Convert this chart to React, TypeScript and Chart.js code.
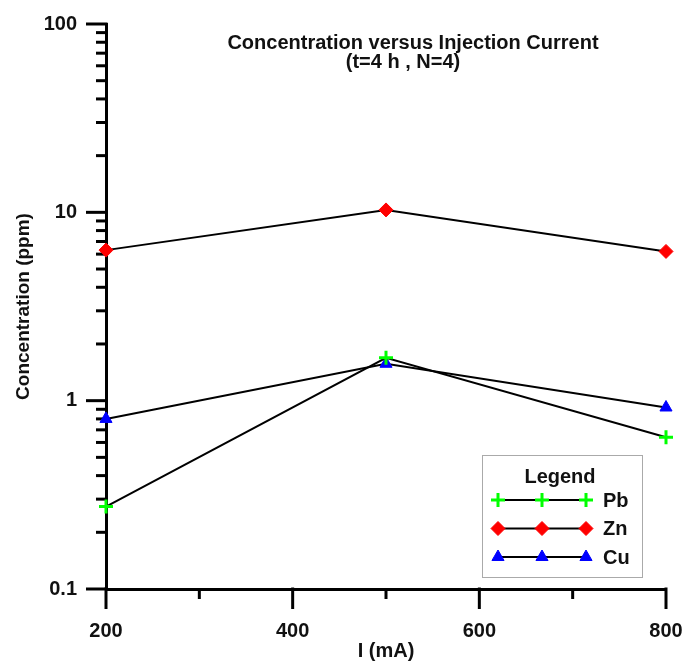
import React, { useEffect, useRef } from "react";
import { Chart, registerables } from "chart.js";
import { drawPoint } from "chart.js/helpers";

Chart.register(...registerables);

const currents = [200, 500, 800];
const pbValues = [0.274, 1.69, 0.64];
const znValues = [6.3, 10.3, 6.2];
const cuValues = [0.8, 1.57, 0.92];

const xMajorTicks = [200, 400, 600, 800];
const xMinorTicks = [300, 500, 700];
const yDecadeTicks = [0.1, 1, 10, 100];
const yMinorTicks = [0.1, 1, 10].flatMap((d) => [2, 3, 4, 5, 6, 7, 8, 9].map((m) => +(m * d).toPrecision(3)));

const titleLines = ["Concentration versus Injection Current", "(t=4 h , N=4)"];
const FONT = "'Liberation Sans', Arial, sans-serif";

const decor = {
  id: "decor",
  beforeDatasetsDraw(chart: any) {
    const ctx = chart.ctx;
    const xs = chart.scales.x;
    const ys = chart.scales.y;
    const { left, bottom } = chart.chartArea;
    ctx.save();
    ctx.strokeStyle = "#000";
    ctx.lineWidth = 3;
    ctx.lineCap = "butt";
    const seg = (x1: number, y1: number, x2: number, y2: number) => {
      ctx.beginPath();
      ctx.moveTo(x1, y1);
      ctx.lineTo(x2, y2);
      ctx.stroke();
    };
    xMajorTicks.forEach((v) => {
      const p = xs.getPixelForValue(v);
      seg(p, bottom - 1.5, p, bottom + 20);
    });
    xMinorTicks.forEach((v) => {
      const p = xs.getPixelForValue(v);
      seg(p, bottom, p, bottom + 10);
    });
    yDecadeTicks.forEach((v) => {
      const p = ys.getPixelForValue(v);
      seg(left + 1.5, p, left - 20, p);
    });
    yMinorTicks.forEach((v) => {
      const p = ys.getPixelForValue(v);
      seg(left, p, left - 10, p);
    });
    ctx.restore();
  },
  afterDraw(chart: any) {
    const ctx = chart.ctx;
    const { right, top } = chart.chartArea;
    ctx.save();
    // Title inside plot area
    ctx.fillStyle = "#111";
    ctx.font = `bold 20px ${FONT}`;
    ctx.textAlign = "center";
    ctx.textBaseline = "middle";
    ctx.fillText(titleLines[0], 413, top + 19);
    ctx.fillText(titleLines[1], 403, top + 38);

    // Legend box
    const bx = right - 184;
    const by = top + 431;
    const bw = 160;
    const bh = 122;
    ctx.fillStyle = "#fff";
    ctx.fillRect(bx, by, bw, bh);
    ctx.strokeStyle = "#aaa";
    ctx.lineWidth = 1;
    ctx.strokeRect(bx + 0.5, by + 0.5, bw, bh);
    ctx.fillStyle = "#111";
    ctx.font = `bold 20px ${FONT}`;
    ctx.textAlign = "center";
    ctx.fillText("Legend", bx + 78, by + 22);
    const x1 = bx + 16;
    const x2 = bx + 104;
    chart.data.datasets.forEach((ds: any, i: number) => {
      const y = by + 45 + i * 28.5;
      ctx.strokeStyle = "#000";
      ctx.lineWidth = 2;
      ctx.beginPath();
      ctx.moveTo(x1, y);
      ctx.lineTo(x2, y);
      ctx.stroke();
      [x1, (x1 + x2) / 2, x2].forEach((mx) => {
        ctx.fillStyle = ds.pointBackgroundColor;
        ctx.strokeStyle = ds.pointBorderColor;
        ctx.lineWidth = ds.pointBorderWidth;
        drawPoint(ctx, { pointStyle: ds.pointStyle, radius: ds.pointRadius, borderWidth: ds.pointBorderWidth, rotation: 0 } as any, mx, y);
      });
      ctx.fillStyle = "#111";
      ctx.font = `bold 20px ${FONT}`;
      ctx.textAlign = "left";
      ctx.fillText(ds.label, bx + 121, y + 1);
    });
    ctx.restore();
  },
};

export default function App() {
  const ref = useRef<HTMLCanvasElement | null>(null);
  useEffect(() => {
    if (!ref.current) return;
    const mk = (label: string, data: number[], style: string, fill: string, bw: number) => ({
      label,
      data: currents.map((x, i) => ({ x, y: data[i] })),
      borderColor: "#000",
      borderWidth: 2,
      pointStyle: style,
      pointRadius: 7,
      pointBackgroundColor: fill,
      pointBorderColor: fill,
      pointBorderWidth: bw,
      clip: false as any,
    });
    const chart = new Chart(ref.current, {
      type: "line",
      data: {
        datasets: [
          mk("Pb", pbValues, "cross", "#00ff00", 3),
          mk("Zn", znValues, "rectRot", "#ff0000", 1),
          mk("Cu", cuValues, "triangle", "#0000ff", 1),
        ] as any,
      },
      options: {
        animation: false,
        responsive: false,
        layout: { padding: { top: 24, right: 17, left: 0, bottom: 0 } },
        plugins: { legend: { display: false }, tooltip: { enabled: false }, title: { display: false } },
        scales: {
          x: {
            type: "linear",
            min: 200,
            max: 800,
            grid: { display: false, drawTicks: false },
            border: { display: true, color: "#000", width: 3 },
            ticks: { stepSize: 200, padding: 30, color: "#111", font: { family: FONT, size: 20, weight: "bold" } },
            title: { display: true, text: "I (mA)", color: "#111", padding: { top: 0, bottom: 1 }, font: { family: FONT, size: 20, weight: "bold" } },
            afterFit: (s: any) => {
              s.height = 75;
              s.paddingLeft = 0;
              s.paddingRight = 0;
            },
          },
          y: {
            type: "logarithmic",
            min: 0.1,
            max: 100,
            grid: { display: false, drawTicks: false },
            border: { display: true, color: "#000", width: 3 },
            ticks: {
              autoSkip: false,
              padding: 29,
              color: "#111",
              font: { family: FONT, size: 20, weight: "bold" },
              callback: (v: any) => {
                const l = Math.log10(Number(v));
                return Math.abs(l - Math.round(l)) < 1e-9 ? String(Number(v)) : "";
              },
            },
            title: { display: true, text: "Concentration (ppm)", color: "#111", padding: { top: 12, bottom: 0 }, font: { family: FONT, size: 19, weight: "bold" } },
            afterFit: (s: any) => {
              s.width = 106;
              s.paddingTop = 0;
              s.paddingBottom = 0;
            },
          },
        },
      },
      plugins: [decor],
    });
    return () => chart.destroy();
  }, []);
  return (
    <canvas
      ref={ref}
      width={683}
      height={664}
      style={{ position: "absolute", left: 0, top: 0, width: 683, height: 664 }}
    />
  );
}
